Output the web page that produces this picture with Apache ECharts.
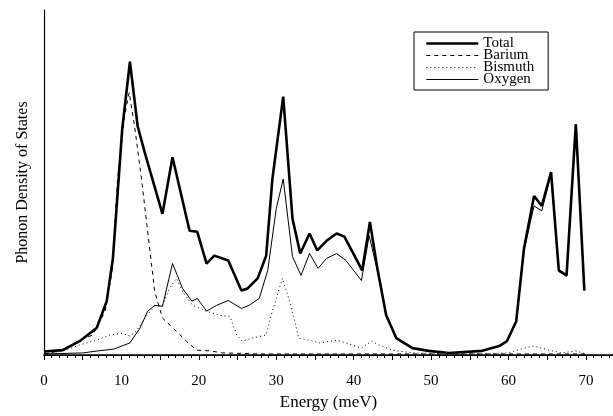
<!DOCTYPE html>
<html>
<head>
<meta charset="utf-8">
<script src="https://cdn.jsdelivr.net/npm/echarts@6/dist/echarts.min.js"></script>
<style>
    html, body { margin: 0; padding: 0; background: #fff; }
    #chart { width: 613px; height: 416px; }
</style>
</head>
<body>
<div id="chart"></div>
<script>
// [energy meV, density (arb. units, 0-100)]
var totalData = [
    [0, 1.0], [2.4, 1.4], [4.6, 4.0], [6.8, 7.8], [8.1, 15.6], [8.9, 28.0], [9.8, 55.9],
    [10.1, 65.4], [11.1, 85.0], [12.1, 66.3], [13.0, 58.8], [15.3, 40.9], [16.6, 57.3],
    [18.8, 36.0], [19.8, 35.7], [21.0, 26.5], [22.0, 28.8], [23.8, 27.4], [25.5, 18.7],
    [26.3, 19.3], [27.6, 22.2], [28.7, 28.8], [29.5, 51.0], [30.9, 74.9], [32.1, 39.5],
    [33.1, 29.4], [34.3, 35.2], [35.3, 30.3], [36.5, 33.1], [37.8, 35.2], [38.8, 34.3],
    [40.1, 28.8], [41.1, 24.5], [42.1, 38.6], [43.0, 25.9], [44.2, 11.5], [45.5, 4.9],
    [47.6, 2.0], [49.7, 1.2], [52.3, 0.6], [56.6, 1.2], [58.8, 2.6], [59.8, 4.0],
    [61.0, 9.8], [62.0, 30.8], [63.3, 46.1], [64.3, 43.2], [65.5, 53.0], [66.5, 24.5],
    [67.5, 23.1], [68.7, 66.9], [69.8, 18.7]
];
var bariumData = [
    [0, 0.3], [2.5, 1.4], [4.6, 4.3], [6.3, 5.8], [7.9, 12.7], [8.8, 24.2], [9.5, 51.0],
    [10.4, 69.2], [11.0, 76.1], [11.7, 66.3], [12.6, 51.0], [13.3, 37.5], [14.3, 18.4],
    [15.3, 10.7], [17.1, 6.9], [18.4, 4.0], [19.7, 1.4], [21.4, 1.2], [23.1, 0.6],
    [28, 0.3], [70, 0.3]
];
var bismuthData = [
    [0, 0.3], [2.5, 1.2], [4.6, 2.9], [6.8, 4.3], [8.5, 5.8], [10.1, 6.3], [11.1, 5.5],
    [11.9, 6.9], [13.3, 11.5], [14.3, 14.1], [15.3, 14.4], [16.2, 19.3], [17.1, 22.2],
    [17.9, 18.4], [19.2, 14.4], [21.0, 12.7], [22.7, 11.5], [24.0, 11.2], [24.9, 5.8],
    [25.6, 4.0], [26.9, 4.9], [28.7, 5.8], [29.5, 12.7], [30.8, 22.2], [31.9, 14.4],
    [32.9, 4.9], [34.3, 4.3], [35.6, 3.5], [37.8, 4.3], [39.0, 3.5], [41.0, 2.0],
    [42.3, 4.0], [43.3, 2.9], [45.0, 1.4], [47.6, 0.6], [55, 0.3], [60, 0.6],
    [62.0, 2.0], [63.3, 2.6], [65.2, 1.4], [66.9, 0.6], [68.7, 1.2], [70, 0.3]
];
var oxygenData = [
    [0, 0.3], [5, 0.6], [7, 1.2], [9, 1.7], [11.1, 3.5], [12.4, 7.8], [13.4, 12.7],
    [14.3, 14.4], [15.3, 14.1], [16.6, 26.5], [17.9, 19.3], [19.1, 15.6], [19.8, 16.4],
    [21.0, 12.7], [22.3, 14.4], [23.8, 15.8], [25.5, 13.5], [26.5, 14.4], [27.8, 16.4],
    [28.9, 24.5], [30.0, 42.4], [30.9, 51.0], [32.1, 28.5], [33.2, 23.1], [34.3, 29.4],
    [35.4, 25.1], [36.5, 28.0], [37.8, 29.4], [39.0, 27.4], [41.0, 21.6], [42.0, 34.6],
    [43.0, 25.1], [44.2, 11.5], [45.5, 4.9], [47.6, 2.0], [49.7, 1.2], [52.3, 0.6],
    [56.6, 1.2], [58.8, 2.6], [59.8, 4.0], [61.0, 9.5], [62.0, 30.3], [63.3, 43.2],
    [64.3, 41.8], [65.5, 52.4], [66.5, 24.2], [67.5, 22.8], [68.7, 66.3], [69.8, 18.7]
];
var seriesNames = ["Total", "Barium", "Bismuth", "Oxygen"];

var font = "Liberation Serif";
var chart = echarts.init(document.getElementById("chart"));

var styles = {
    Total: { width: 2.6, type: "solid" },
    Barium: { width: 1, type: [4, 4] },
    Bismuth: { width: 1, type: [1, 3] },
    Oxygen: { width: 1, type: "solid" }
};

function lineSeries(name, data) {
    return {
        name: name,
        type: "line",
        data: data,
        showSymbol: false,
        symbol: "none",
        silent: true,
        animation: false,
        itemStyle: { color: "#000" },
        lineStyle: { color: "#000", width: styles[name].width, type: styles[name].type }
    };
}

chart.setOption({
    backgroundColor: "#fff",
    textStyle: { fontFamily: font, color: "#000" },
    grid: { left: 44, right: 0, top: 10, bottom: 59, containLabel: false },
    legend: {
        data: seriesNames.map(function (n) {
            return {
                name: n,
                lineStyle: { color: "#000", width: styles[n].width, type: styles[n].type }
            };
        }),
        orient: "vertical",
        left: 414,
        top: 32,
        borderColor: "#000",
        borderWidth: 1,
        padding: [4, 14, 3, 11],
        itemWidth: 52,
        itemHeight: 12,
        itemGap: -3,
        itemStyle: { opacity: 0 },
        textStyle: { fontFamily: font, fontSize: 15, lineHeight: 12, color: "#000" }
    },
    xAxis: [
        {
            type: "value",
            min: 0,
            max: 73.5,
            interval: 5,
            name: "Energy (meV)",
            nameLocation: "middle",
            nameGap: 39,
            nameTextStyle: { fontFamily: font, fontSize: 17, color: "#000" },
            splitLine: { show: false },
            axisLine: { onZero: false, lineStyle: { color: "#000", width: 1.5 } },
            axisTick: { length: 5, lineStyle: { color: "#000" } },
            minorTick: { show: true, splitNumber: 5, length: 3, lineStyle: { color: "#000" } },
            axisLabel: {
                margin: 19,
                fontSize: 15,
                fontFamily: font,
                color: "#000",
                showMaxLabel: false,
                formatter: function (v) { return v % 10 === 0 ? String(v) : ""; }
            }
        },
        {
            type: "value",
            position: "top",
            min: 0,
            max: 73.5,
            axisLine: { show: true, lineStyle: { color: "#000", width: 1.2 } },
            axisTick: { show: false },
            axisLabel: { show: false },
            splitLine: { show: false }
        }
    ],
    yAxis: {
        type: "value",
        min: 0,
        max: 100,
        name: "Phonon Density of States",
        nameLocation: "middle",
        nameGap: 13,
        nameTextStyle: { fontFamily: font, fontSize: 16, color: "#000" },
        axisLine: { show: true, lineStyle: { color: "#000", width: 1.2 } },
        axisTick: { show: false },
        axisLabel: { show: false },
        splitLine: { show: false }
    },
    series: seriesNames.map(function (n, i) {
        return lineSeries(n, [totalData, bariumData, bismuthData, oxygenData][i]);
    })
});
</script>
</body>
</html>
